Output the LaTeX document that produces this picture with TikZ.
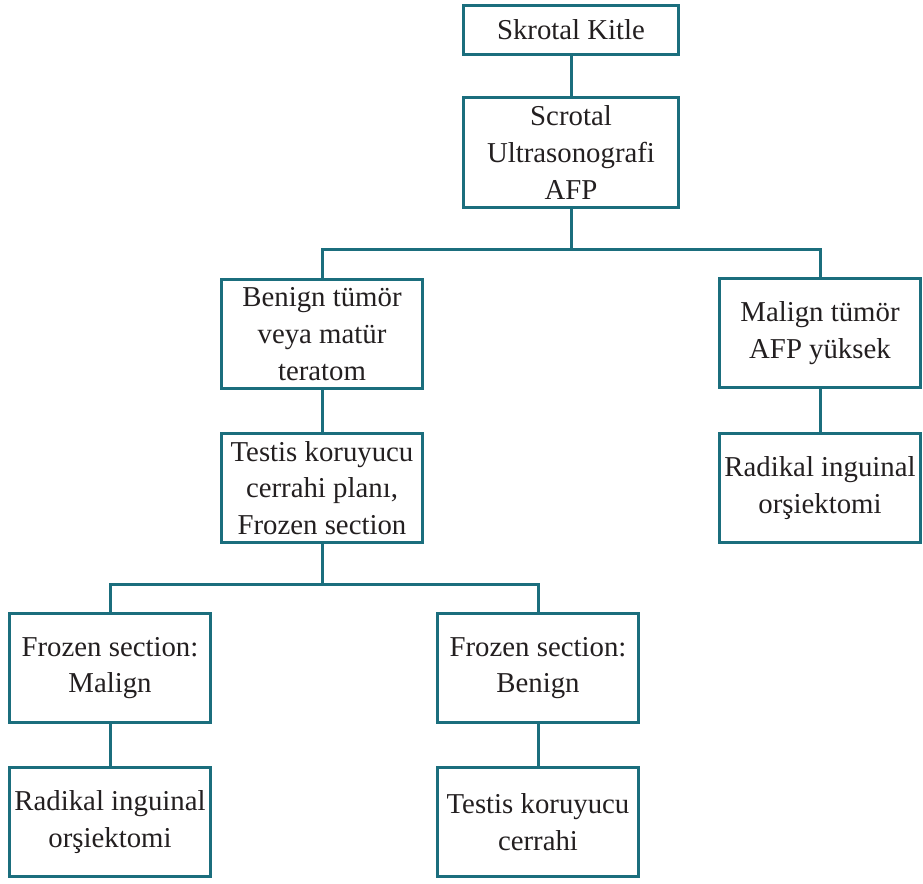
\documentclass[tikz,border=0pt]{standalone}
\usepackage{fontspec}
\setmainfont{Liberation Serif}
\usetikzlibrary{positioning}
\newcommand{\Unit}{0.75pt}
\newcommand{\Edge}{2.25pt}
\newcommand{\BoxW}{150.75pt}
\newcommand{\BoxH}{81.75pt}
\definecolor{teal}{HTML}{1B6E7D}
\definecolor{ink}{HTML}{231F20}

\begin{document}
\begin{tikzpicture}[x=\Unit,y=\Unit, line join=miter,
  stepbox/.style={draw=teal, line width=\Edge, text=ink, align=center,
    minimum width=\BoxW, minimum height=\BoxH, inner sep=0pt,
    font=\fontsize{21.6}{27.5}\selectfont},
  link/.style={draw=teal, line width=\Edge}]

  \useasboundingbox (0,0) rectangle (923,883);

  % ---- top of the tree ----------------------------------------------------
  \node[stepbox, minimum width=161.25pt, minimum height=36.75pt] (kitle) at (571,853) {Skrotal Kitle};
  \node[stepbox, minimum width=161.25pt, minimum height=82.5pt] (usg) at (571,730.5) {Scrotal\\Ultrasonografi\\AFP};

  % ---- first split --------------------------------------------------------
  \node[stepbox] (benign) at (322,549) {Benign tümör\\veya matür\\teratom};
  \node[stepbox] (malign) at (820,550) {Malign tümör\\AFP yüksek};
  \node[stepbox] (plan) at (322,395) {Testis koruyucu\\cerrahi planı,\\Frozen section};
  \node[stepbox] (orsi) at (820,395) {Radikal inguinal\\orşiektomi};

  % ---- frozen section outcomes --------------------------------------------
  \node[stepbox] (fsmalign) at (110,215) {Frozen section:\\Malign};
  \node[stepbox] (fsbenign) at (538,215) {Frozen section:\\Benign};
  \node[stepbox] (orsiB) at (110,61) {Radikal inguinal\\orşiektomi};
  \node[stepbox] (koru) at (538,61) {Testis koruyucu\\cerrahi};

  % ---- forks --------------------------------------------------------------
  \coordinate (forkA) at (571,633);
  \coordinate (forkB) at (322,299);

  % ---- connectors ---------------------------------------------------------
  \path[link] (kitle) -- (usg);
  \path[link] (usg.south) -- (forkA);
  \path[link] (benign.north) |- (forkA) -| (malign.north);
  \path[link] (benign) -- (plan);
  \path[link] (malign) -- (orsi);
  \path[link] (plan.south) -- (forkB);
  \path[link] (fsmalign.north) |- (forkB) -| (fsbenign.north);
  \path[link] (fsmalign) -- (orsiB);
  \path[link] (fsbenign) -- (koru);

\end{tikzpicture}
\end{document}
